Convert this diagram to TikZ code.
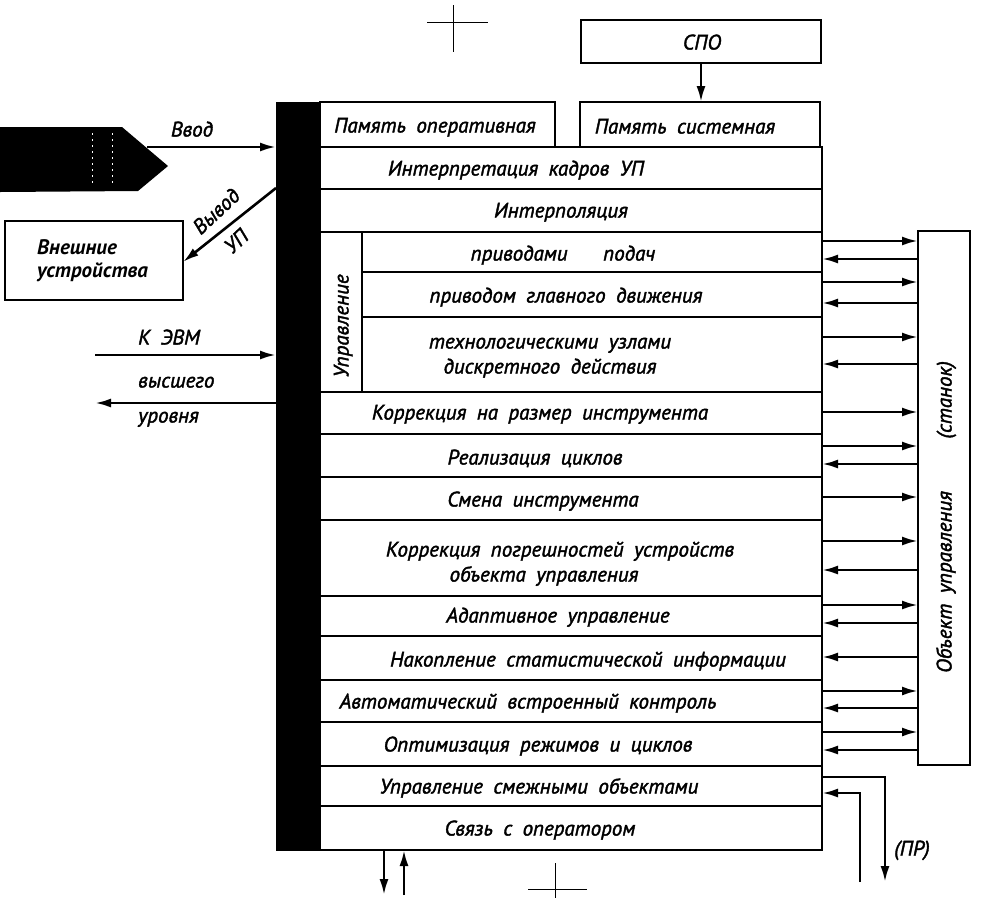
\documentclass[tikz,border=0pt]{standalone}
\usepackage{fontspec}
\setmainfont{PT Sans}
\font\gostf="PT Sans/I:embolden=1.8" at 21pt
\font\gostb="PT Sans/BI" at 21pt
\usetikzlibrary{arrows.meta}
\begin{document}
\begin{tikzpicture}[x=1pt,y=-1pt,
  blk/.style={draw, line width=2.6pt, inner sep=0pt, outer sep=0pt, anchor=north west},
  arr/.style={line width=2.6pt, -{Latex[length=16pt,width=9pt]}},
  txt/.style={font=\gostf, execute at begin node={\spaceskip=0.5em plus 0.1em\relax}, inner sep=0pt, text height=15pt, text depth=0pt},
  crop/.style={line width=0.6pt}
]
\useasboundingbox (0,0) rectangle (985,898);
% boxes
\node[blk, minimum width=240pt, minimum height=43pt] (spo) at (581,20) {};
\node[blk, minimum width=240pt, minimum height=45pt] (memsys) at (580,102) {};
\node[blk, minimum width=235pt, minimum height=45pt] (memop) at (320,102) {};
\node[fill=black, inner sep=0pt, outer sep=0pt, minimum width=44pt, minimum height=749pt, anchor=north west] (bus) at (276,102) {};
\node[blk, minimum width=502pt, minimum height=42pt] (r1) at (320,147) {};
\node[blk, minimum width=502pt, minimum height=43pt] (r2) at (320,189) {};
\node[blk, minimum width=42pt, minimum height=160pt] (ctl) at (320,232) {};
\node[blk, minimum width=460pt, minimum height=40pt] (s1) at (362,232) {};
\node[blk, minimum width=460pt, minimum height=45pt] (s2) at (362,272) {};
\node[blk, minimum width=460pt, minimum height=75pt] (s3) at (362,317) {};
\node[blk, minimum width=502pt, minimum height=42pt] (r4) at (320,392) {};
\node[blk, minimum width=502pt, minimum height=43pt] (r5) at (320,434) {};
\node[blk, minimum width=502pt, minimum height=43pt] (r6) at (320,477) {};
\node[blk, minimum width=502pt, minimum height=76pt] (r7) at (320,520) {};
\node[blk, minimum width=502pt, minimum height=40pt] (r8) at (320,596) {};
\node[blk, minimum width=502pt, minimum height=44pt] (r9) at (320,636) {};
\node[blk, minimum width=502pt, minimum height=42pt] (r10) at (320,680) {};
\node[blk, minimum width=502pt, minimum height=44pt] (r11) at (320,722) {};
\node[blk, minimum width=502pt, minimum height=40pt] (r12) at (320,766) {};
\node[blk, minimum width=502pt, minimum height=44pt] (r13) at (320,806) {};
\node[blk, minimum width=52pt, minimum height=534pt] (obj) at (918,231) {};
\node[blk, minimum width=178pt, minimum height=79pt] (ext) at (5,221) {};
% tape
\fill[black] (0,127) -- (122,127) -- (168,166) -- (138,191) -- (0,192) -- cycle;
\draw[white, line width=1pt, dash pattern=on 2pt off 4pt] (92,133) -- (92,186) (112,133) -- (112,186);
% texts
\node[txt] (tspo) at (702,42) {СПО};
\node[txt] (tmo) at (435,125) {Память оперативная};
\node[txt] (tms) at (685,126) {Память системная};
\node[txt] (t1) at (516,168) {Интерпретация кадров УП};
\node[txt] (t2) at (561,210) {Интерполяция};
\node[txt, rotate=90] (tupr) at (341,326) {Управление};
\node[txt] (t3) at (563,253) {приводами\hspace{1.2em} подач};
\node[txt] (t4) at (566,295) {приводом главного движения};
\node[txt] (t5a) at (550,341) {технологическими узлами};
\node[txt] (t5b) at (550,366) {дискретного действия};
\node[txt] (t6) at (540,412) {Коррекция на размер инструмента};
\node[txt] (t7) at (535,457) {Реализация циклов};
\node[txt] (t8) at (543,499) {Смена инструмента};
\node[txt] (t9a) at (560,549) {Коррекция погрешностей устройств};
\node[txt] (t9b) at (544,574) {объекта управления};
\node[txt] (t10) at (558,615) {Адаптивное управление};
\node[txt] (t11) at (588,659) {Накопление статистической информации};
\node[txt] (t12) at (528,701) {Автоматический встроенный контроль};
\node[txt] (t13) at (538,744) {Оптимизация режимов и циклов};
\node[txt] (t14) at (539,786) {Управление смежными объектами};
\node[txt] (t15) at (540,828) {Связь с оператором};
\node[txt, rotate=90] (tobj) at (944,517) {Объект управления\hspace{2em} (станок)};
\node[txt] (tvvod) at (192,129) {Ввод};
\node[txt, rotate=43] (tvyv) at (216,211) {Вывод};
\node[txt, rotate=43] (tup) at (236,241) {УП};
\node[txt, anchor=west, font=\gostb] (te1) at (37,247) {Внешние};
\node[txt, anchor=west, font=\gostb] (te2) at (37,270) {устройства};
\node[txt, anchor=west] (tk1) at (138,337) {К ЭВМ};
\node[txt, anchor=west] (tk2) at (138,380) {высшего};
\node[txt, anchor=west] (tk3) at (138,415) {уровня};
\node[txt] (tpr) at (912,848) {(ПР)};
% connectors
\coordinate (tapetip) at (147,147);
\draw[arr] (tapetip) -- (bus.west |- tapetip);
\draw[arr] (bus.west |- 0,188) -- (ext.east |- 0,262);
\coordinate (evm1) at (95,355);
\coordinate (evm2) at (95,403);
\draw[arr] (evm1) -- (bus.west |- evm1);
\draw[arr] (bus.west |- evm2) -- (evm2);
\draw[arr] (spo.south) -- (spo.south |- memsys.north);
\foreach \y in {241,282,337,412,446,497,541,605,691,732}
  \draw[arr] (r1.east |- 0,\y) -- (obj.west |- 0,\y);
\foreach \y in {259,303,364,464,570,623,657,708,750}
  \draw[arr] (obj.west |- 0,\y) -- (r1.east |- 0,\y);
\coordinate (pr1) at (885,882);
\coordinate (pr2) at (860,882);
\draw[arr] (r12.east |- 0,777) -| (pr1);
\draw[arr] (pr2) |- (r12.east |- 0,793);
\coordinate (b1) at (384,895);
\coordinate (b2) at (404,895);
\draw[arr] (r13.south -| b1) -- (b1);
\draw[arr] (b2) -- (r13.south -| b2);
% crop marks
\draw[crop] (427,22) -- (488,22) (453,5) -- (453,52);
\draw[crop] (528,889) -- (587,889) (555,863) -- (555,898);
\end{tikzpicture}
\end{document}
